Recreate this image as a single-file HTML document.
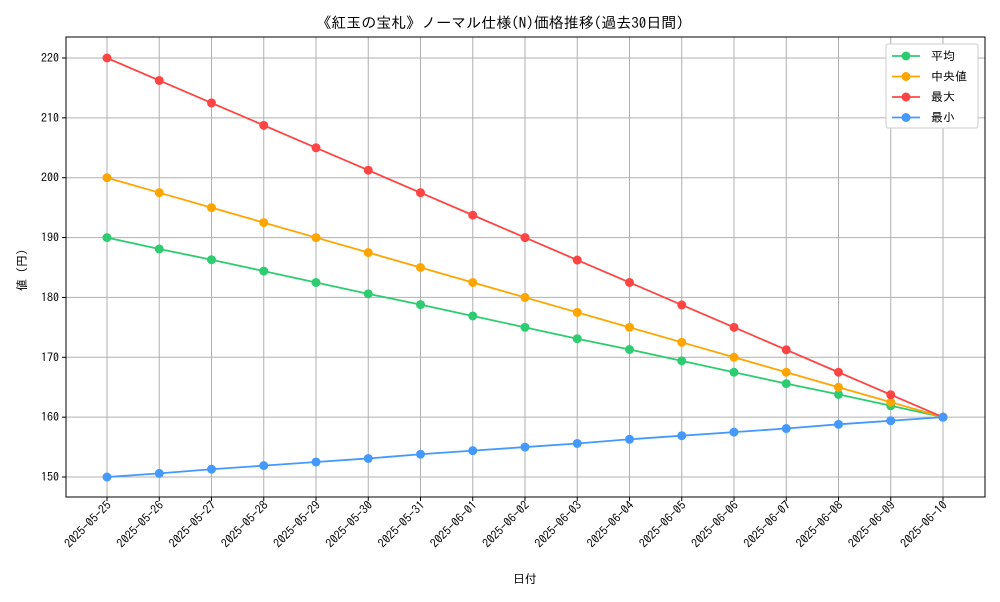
<!DOCTYPE html>
<html><head><meta charset="utf-8"><style>
body{margin:0;background:#fff;font-family:"IPAGothic","Liberation Sans","Noto Sans CJK JP",sans-serif}
</style></head><body>
<svg id="chart" width="1000" height="600" xmlns="http://www.w3.org/2000/svg" font-family="IPAGothic, 'Noto Sans CJK JP', sans-serif"></svg>
<script>
const categories=["2025-05-25","2025-05-26","2025-05-27","2025-05-28","2025-05-29","2025-05-30","2025-05-31","2025-06-01","2025-06-02","2025-06-03","2025-06-04","2025-06-05","2025-06-06","2025-06-07","2025-06-08","2025-06-09","2025-06-10"];
const meanValues=[190,188.1,186.3,184.4,182.5,180.6,178.8,176.9,175,173.1,171.3,169.4,167.5,165.6,163.8,161.9,160];
const medianValues=[200,197.5,195,192.5,190,187.5,185,182.5,180,177.5,175,172.5,170,167.5,165,162.5,160];
const maxValues=[220,216.25,212.5,208.75,205,201.25,197.5,193.75,190,186.25,182.5,178.75,175,171.25,167.5,163.75,160];
const minValues=[150,150.6,151.3,151.9,152.5,153.1,153.8,154.4,155,155.6,156.3,156.9,157.5,158.1,158.8,159.4,160];
const yTicks=[150,160,170,180,190,200,210,220];
const seriesNames=["平均","中央値","最大","最小"];
const svg=document.getElementById('chart');const NS="http://www.w3.org/2000/svg";
const L=66,R=985,T=37,B=497;
const xS=i=>107+i*(943-107)/(categories.length-1);
const yS=v=>477-(v-150)*(477-58)/70;
function mk(t,a,txt){const e=document.createElementNS(NS,t);for(const k in a)e.setAttribute(k,a[k]);if(txt!==undefined)e.textContent=txt;svg.appendChild(e);return e;}
let e=mk('text',{x:500,y:28,'text-anchor':'middle','font-size':15},'《紅玉の宝札》ノーマル仕様(N)価格推移(過去30日間)');

categories.forEach((c,i)=>{const x=xS(i);
 let g=mk('line',{x1:x,x2:x,y1:T,y2:B,stroke:'#b0b0b0','stroke-width':1});
 
 mk('line',{x1:x,x2:x,y1:B,y2:B+4,stroke:'#000'});
 const ax=x+5,ay=B+9;
 let t=mk('text',{x:ax,y:ay,'font-size':12,'text-anchor':'end',transform:`rotate(-45 ${ax} ${ay})`},c);
 
});
yTicks.forEach(v=>{const y=yS(v);
 let g=mk('line',{x1:L,x2:R,y1:y,y2:y,stroke:'#b0b0b0','stroke-width':1});
 
 mk('line',{x1:L-4,x2:L,y1:y,y2:y,stroke:'#000'});
 let t=mk('text',{x:L-7,y:y+4,'font-size':12,'text-anchor':'end'},v);
 
});
e=mk('rect',{x:L,y:T,width:R-L,height:B-T,fill:'none',stroke:'#000','stroke-width':1});

e=mk('text',{x:525,y:583,'text-anchor':'middle','font-size':12},'日付');

e=mk('text',{x:26,y:270,'text-anchor':'middle','font-size':12,transform:'rotate(-90 26 270)'},'値 (円)');

const series=[[meanValues,'#2ecc71'],[medianValues,'#ffa500'],[maxValues,'#ff4444'],[minValues,'#4499ff']];
series.forEach(([vals,col],si)=>{
 let p=mk('polyline',{points:vals.map((v,i)=>xS(i)+','+yS(v)).join(' '),fill:'none',stroke:col,'stroke-width':1.8});
 
 vals.forEach((v,i)=>{let c=mk('circle',{cx:xS(i),cy:yS(v),r:4.5,fill:col});
  });
});
e=mk('rect',{x:886,y:44,width:92,height:84,fill:'#fff',stroke:'#ccc',rx:2});

seriesNames.forEach((n,i)=>{const y=56+i*20.5;const col=series[i][1];
 mk('line',{x1:892,x2:920,y1:y,y2:y,stroke:col,'stroke-width':1.8});
 mk('circle',{cx:906,cy:y,r:4.5,fill:col});
 let t=mk('text',{x:931,y:y+4,'font-size':12},n);
 
});
</script>
</body></html>
